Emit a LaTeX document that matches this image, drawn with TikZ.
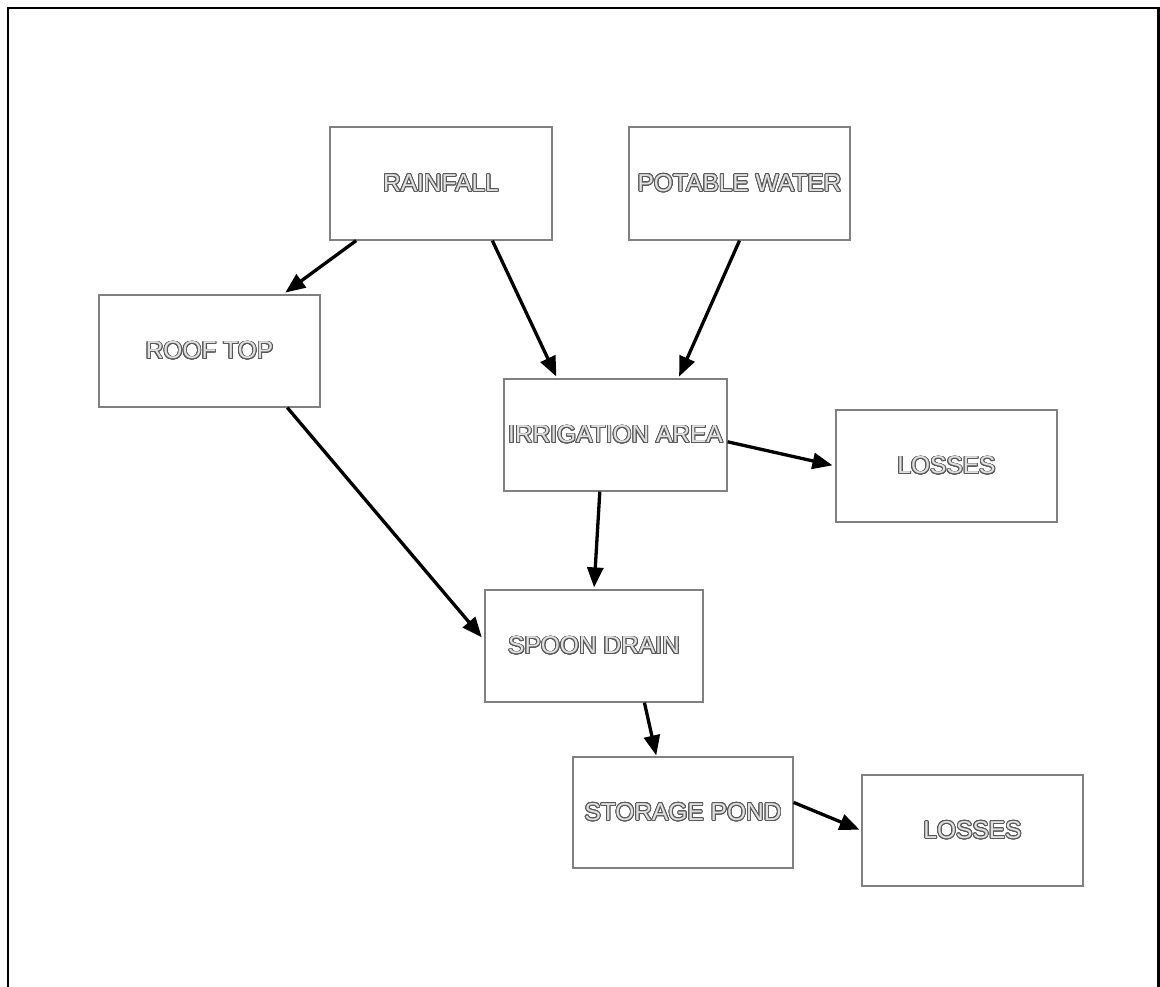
\documentclass[tikz,border=0pt]{standalone}
\usepackage{fontspec}
\setmainfont{Liberation Sans}
\usepackage{contour}
\contourlength{0.9pt}
\contournumber{24}
\usetikzlibrary{arrows.meta,calc}
\newcommand{\otext}[1]{\contour{black!65}{\textcolor{black!12}{#1}}}
\tikzset{
  boxnode/.style={draw=black!50, line width=1.2pt, fill=white, rectangle,
    minimum width=221pt, minimum height=112pt, inner sep=0pt,
    font=\fontsize{24.5}{29}\selectfont},
  flow/.style={line width=3.3pt, -{Triangle[length=20pt,width=16pt]}},
}
\begin{document}
\begin{tikzpicture}[x=1pt,y=-1pt]
\useasboundingbox (0,0) rectangle (1160,987);
\draw[line width=2.5pt] (8,990) -- (8,8) -- (1158.5,8) -- (1158.5,990);

\node[boxnode, minimum width=222pt, minimum height=113pt] (rain) at (441,183.5) {\otext{RAINFALL}};
\node[boxnode, minimum width=221pt, minimum height=113pt] (pot) at (739.5,183.5) {\otext{POTABLE WATER}};
\node[boxnode] (roof) at (209.5,351) {\otext{ROOF TOP}};
\node[boxnode, minimum width=223pt] (irr) at (615.5,435) {\otext{IRRIGATION AREA}};
\node[boxnode] (loss1) at (946.5,466) {\otext{LOSSES}};
\node[boxnode, minimum width=218pt] (spoon) at (594,646) {\otext{SPOON DRAIN}};
\node[boxnode, minimum width=220pt, minimum height=111pt] (stor) at (683,812.5) {\otext{STORAGE POND}};
\node[boxnode, minimum height=111pt] (loss2) at (972.5,830.5) {\otext{LOSSES}};

\draw[flow, shorten >=3pt] ($(rain.south west)!0.12!(rain.south east)$) -- ($(roof.north west)!0.83!(roof.north east)$);
\draw[flow, shorten >=2pt] ($(rain.south west)!0.73!(rain.south east)$) -- ($(irr.north west)!0.24!(irr.north east)$);
\draw[flow, shorten >=2pt] (pot.south) -- ($(irr.north west)!0.78!(irr.north east)$);
\draw[flow, shorten >=3pt] ($(irr.north east)!0.56!(irr.south east)$) -- (loss1.west);
\draw[flow, shorten >=4pt] ($(roof.south west)!0.85!(roof.south east)$) -- ($(spoon.north west)!0.45!(spoon.south west)$);
\draw[flow, shorten >=2pt] ($(irr.south west)!0.43!(irr.south east)$) -- ($(spoon.north west)!0.5!(spoon.north east)$);
\draw[flow, shorten >=1pt] ($(spoon.south west)!0.73!(spoon.south east)$) -- ($(stor.north west)!0.38!(stor.north east)$);
\draw[flow, shorten >=2pt] ($(stor.north east)!0.41!(stor.south east)$) -- (loss2.west);
\end{tikzpicture}
\end{document}
